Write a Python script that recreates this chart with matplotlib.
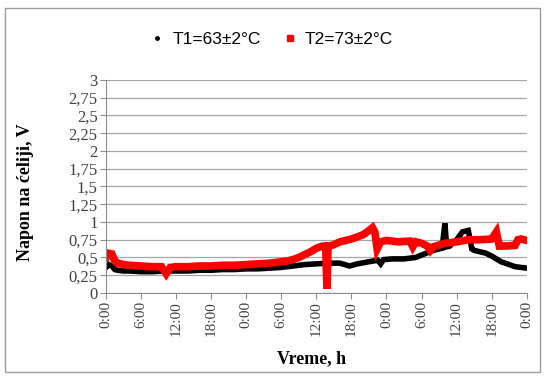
import matplotlib
matplotlib.use("Agg")
import matplotlib.pyplot as plt
import matplotlib.patches as mpatches
from matplotlib.lines import Line2D

# T1 = 63 +- 2 C (black)
t1_hours = [0, 0.5, 1, 1.5, 2, 3, 4, 6, 8, 10, 12, 14, 16, 18, 20, 22, 24, 26, 28, 30,
            32, 34, 36, 38, 40, 41.7, 43, 45, 46.5, 47, 47.5, 49, 51, 53, 54.5, 56,
            57.5, 58, 58.3, 58.8, 60, 61, 62, 62.6, 63, 64, 65, 66, 67.6, 69, 70, 71, 72]
t1_volts = [0.36, 0.40, 0.38, 0.33, 0.32, 0.31, 0.31, 0.30, 0.30, 0.31, 0.31, 0.31, 0.32,
            0.32, 0.33, 0.33, 0.34, 0.34, 0.35, 0.36, 0.38, 0.40, 0.41, 0.42, 0.42, 0.38,
            0.41, 0.44, 0.46, 0.41, 0.47, 0.48, 0.48, 0.50, 0.55, 0.60, 0.63, 0.98, 0.65,
            0.66, 0.75, 0.86, 0.88, 0.62, 0.60, 0.58, 0.56, 0.52, 0.44, 0.40, 0.37, 0.36, 0.35]

# T2 = 73 +- 2 C (red)
t2_hours = [0, 0.3, 1, 1.5, 2, 3, 4, 6, 8, 9.5, 10.3, 11, 12, 14, 16, 18, 20, 22, 24, 26,
            28, 30, 31, 32, 33, 34, 35, 36, 37, 37.6, 37.8, 38, 38.6, 39, 40, 42, 44, 45,
            45.6, 46, 46.4, 47, 48, 50, 52, 52.5, 53, 54, 55, 55.5, 56, 58, 60, 62, 64,
            66, 66.8, 67.3, 68, 70, 70.5, 71, 72]
t2_volts = [0.50, 0.56, 0.55, 0.45, 0.42, 0.40, 0.39, 0.38, 0.37, 0.37, 0.27, 0.36, 0.37,
            0.37, 0.38, 0.38, 0.39, 0.39, 0.40, 0.41, 0.42, 0.44, 0.45, 0.47, 0.50, 0.54,
            0.58, 0.63, 0.66, 0.66, 0.06, 0.66, 0.67, 0.68, 0.72, 0.76, 0.82, 0.88, 0.92,
            0.86, 0.62, 0.72, 0.74, 0.72, 0.73, 0.65, 0.72, 0.70, 0.66, 0.60, 0.65, 0.70,
            0.72, 0.75, 0.75, 0.76, 0.86, 0.66, 0.66, 0.67, 0.75, 0.76, 0.74]

x_ticks = list(range(0, 73, 6))
x_labels = ["0:00", "6:00", "12:00", "18:00"] * 3 + ["0:00"]
y_ticks = [0, 0.25, 0.5, 0.75, 1, 1.25, 1.5, 1.75, 2, 2.25, 2.5, 2.75, 3]
y_labels = ["0", "0,25", "0,5", "0,75", "1", "1,25", "1,5", "1,75", "2", "2,25", "2,5", "2,75", "3"]

serif = "Liberation Serif"
fig = plt.figure(figsize=(5.45, 3.79), dpi=100)
ax = fig.add_axes([0.1945, 0.227, 0.772, 0.562])

ax.plot(t1_hours, t1_volts, color="black", linewidth=4.0, solid_joinstyle="miter")
ax.plot(t2_hours, t2_volts, color="#ff0000", linewidth=5.5, solid_joinstyle="miter")

ax.set_xlim(0, 72)
ax.set_ylim(0, 3)
ax.set_xticks(x_ticks)
ax.set_xticklabels(x_labels, rotation=90, fontfamily=serif, fontsize=11, color="#404040")
ax.set_yticks(y_ticks)
ax.set_yticklabels(y_labels, fontfamily=serif, fontsize=12, color="#404040")
ax.tick_params(axis="both", direction="out", length=4, color="#8c8c8c", pad=2)
ax.grid(True, axis="y", color="#a6a6a6", linewidth=0.9)
ax.set_axisbelow(True)
for side in ["top", "right"]:
    ax.spines[side].set_visible(False)
for side in ["left", "bottom"]:
    ax.spines[side].set_color("#8c8c8c")

ax.set_ylabel("Napon na ćeliji, V", fontfamily=serif, fontweight="bold", fontsize=13)
ax.yaxis.set_label_coords(-0.17, 0.474)
ax.set_xlabel("Vreme, h", fontfamily=serif, fontweight="bold", fontsize=13)
ax.xaxis.set_label_coords(0.489, -0.27)

handles = [
    Line2D([], [], color="black", marker="o", markersize=2.5, linestyle="none"),
    Line2D([], [], color="#ff0000", marker="s", markersize=4.5, linestyle="none"),
]
fig.legend(handles, ["T1=63±2°C", "T2=73±2°C"], loc="center", bbox_to_anchor=(0.497, 0.895),
           ncol=2, frameon=False, handletextpad=0.35, columnspacing=1.2, handlelength=1.0,
           prop={"family": "Liberation Sans", "size": 12.5})

fig.patches.append(mpatches.Rectangle((0.009, 0.018), 0.982, 0.962, transform=fig.transFigure,
                                      fill=False, edgecolor="#9a9a9a", linewidth=1.0))

fig.savefig("out.png", dpi=100)
